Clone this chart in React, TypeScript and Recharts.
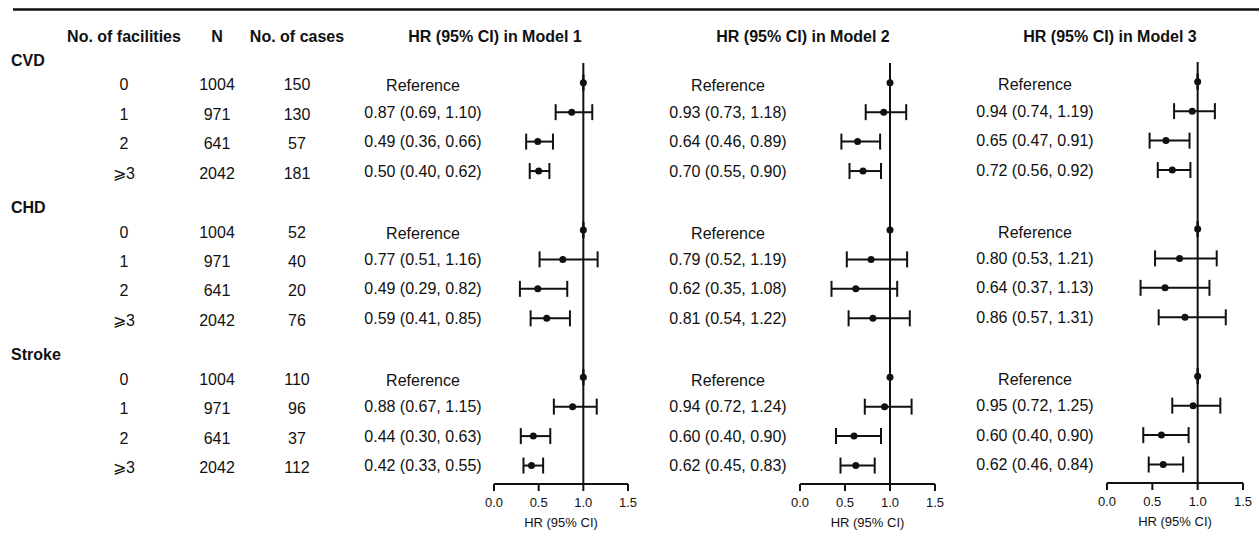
import React from 'react'
import { ScatterChart, Scatter, ErrorBar, XAxis, YAxis, ReferenceLine } from 'recharts'

const outcomes = ['CVD', 'CHD', 'Stroke']
const facilityLevels = ['0', '1', '2', '⩾3']
const participants = [1004, 971, 641, 2042]
const casesCVD = [150, 130, 57, 181]
const casesCHD = [52, 40, 20, 76]
const casesStroke = [110, 96, 37, 112]

// rows run CVD 0..⩾3, CHD 0..⩾3, Stroke 0..⩾3; first of each block is the reference group
const model1HR = [1, 0.87, 0.49, 0.5, 1, 0.77, 0.49, 0.59, 1, 0.88, 0.44, 0.42]
const model1Low = [1, 0.69, 0.36, 0.4, 1, 0.51, 0.29, 0.41, 1, 0.67, 0.3, 0.33]
const model1High = [1, 1.1, 0.66, 0.62, 1, 1.16, 0.82, 0.85, 1, 1.15, 0.63, 0.55]
const model2HR = [1, 0.93, 0.64, 0.7, 1, 0.79, 0.62, 0.81, 1, 0.94, 0.6, 0.62]
const model2Low = [1, 0.73, 0.46, 0.55, 1, 0.52, 0.35, 0.54, 1, 0.72, 0.4, 0.45]
const model2High = [1, 1.18, 0.89, 0.9, 1, 1.19, 1.08, 1.22, 1, 1.24, 0.9, 0.83]
const model3HR = [1, 0.94, 0.65, 0.72, 1, 0.8, 0.64, 0.86, 1, 0.95, 0.6, 0.62]
const model3Low = [1, 0.74, 0.47, 0.56, 1, 0.53, 0.37, 0.57, 1, 0.72, 0.4, 0.46]
const model3High = [1, 1.19, 0.91, 0.92, 1, 1.21, 1.13, 1.31, 1, 1.25, 0.9, 0.84]

const hrTicks = [0, 0.5, 1, 1.5]

const W = 1259
const H = 536
const FONT = '"Liberation Sans", Arial, Helvetica, sans-serif'
const INK = '#111'

// vertical layout, in "slot" units: one slot per header / row
const ROW_H = 29.45
const SLOT0_Y = 53.25
const AXIS_Y = 484
const XAXIS_H = 45
const Y_MIN = -0.6
const Y_MAX = (AXIS_Y - SLOT0_Y) / ROW_H
const REF_TOP = 0.33
const PLOT_TOP = SLOT0_Y + Y_MIN * ROW_H

const casesByOutcome = [casesCVD, casesCHD, casesStroke]

const rows = outcomes.flatMap((_, b) =>
  facilityLevels.map((_, r) => ({ block: b, level: r, idx: b * 4 + r, slot: b * 5 + r + 1 }))
)
const allSlots = Array.from({ length: outcomes.length * 5 }, (_, i) => i)

const fmt = (v: number) => v.toFixed(2)

const panels = [
  { title: 'HR (95% CI) in Model 1', hr: model1HR, lo: model1Low, hi: model1High, left: 494, right: 628, textX: 423, titleX: 495, shift: 0 },
  { title: 'HR (95% CI) in Model 2', hr: model2HR, lo: model2Low, hi: model2High, left: 800, right: 935, textX: 728, titleX: 803, shift: 0 },
  { title: 'HR (95% CI) in Model 3', hr: model3HR, lo: model3Low, hi: model3High, left: 1107, right: 1243, textX: 1035, titleX: 1110, shift: -1 },
]

const colFacility = 124
const colN = 217
const colCases = 297

function Dot(props: any) {
  return <circle cx={props.cx} cy={props.cy} r={3.5} fill={INK} />
}

function Panel({ p, withTable }: { p: (typeof panels)[number]; withTable: boolean }) {
  const data = rows.map((row) => {
    const hr = p.hr[row.idx]
    return {
      slot: row.slot,
      hr,
      err: [hr - p.lo[row.idx], p.hi[row.idx] - hr],
      label: row.level === 0 ? 'Reference' : `${fmt(hr)} (${fmt(p.lo[row.idx])}, ${fmt(p.hi[row.idx])})`,
    }
  })

  const renderTick = (props: any) => {
    const slot = props.payload.value
    const y = props.y
    const isHeader = slot % 5 === 0
    if (isHeader) {
      if (!withTable) return <g />
      return (
        <text x={11} y={y + 7} dy="0.35em" fontSize={16} fontWeight="bold" fill={INK} fontFamily={FONT}>
          {outcomes[slot / 5]}
        </text>
      )
    }
    const row = rows.find((r) => r.slot === slot)!
    const d = data[row.idx]
    const tableY = y + 2
    return (
      <g fontFamily={FONT} fontSize={16} fill={INK} textAnchor="middle">
        {withTable && (
          <>
            <text x={colFacility} y={tableY} dy="0.35em">{facilityLevels[row.level]}</text>
            <text x={colN} y={tableY} dy="0.35em">{participants[row.level]}</text>
            <text x={colCases} y={tableY} dy="0.35em">{casesByOutcome[row.block][row.level]}</text>
          </>
        )}
        <text x={p.textX} y={row.level === 0 ? y + 3 : y} dy="0.35em">{d.label}</text>
      </g>
    )
  }

  return (
    <div style={{ position: 'absolute', left: 0, top: p.shift }}>
      <ScatterChart
        width={W}
        height={H}
        margin={{ top: PLOT_TOP, right: W - p.right, bottom: H - AXIS_Y - XAXIS_H, left: 0 }}
      >
        <XAxis
          type="number"
          dataKey="hr"
          domain={[0, 1.5]}
          ticks={hrTicks}
          allowDataOverflow
          tickFormatter={(v: number) => v.toFixed(1)}
          axisLine={{ stroke: INK, strokeWidth: 2 }}
          tickLine={{ stroke: INK, strokeWidth: 2 }}
          tickSize={7}
          tickMargin={7}
          tick={{ fill: INK, fontSize: 13, fontFamily: FONT }}
          height={XAXIS_H}
          label={{ value: 'HR (95% CI)', position: 'insideBottom', offset: 2, fill: INK, fontSize: 13, fontFamily: FONT }}
        />
        <YAxis
          type="number"
          dataKey="slot"
          domain={[Y_MIN, Y_MAX]}
          allowDataOverflow
          reversed
          ticks={allSlots}
          interval={0}
          width={p.left}
          axisLine={false}
          tickLine={false}
          tick={renderTick}
        />
        <ReferenceLine
          segment={[
            { x: 1, y: REF_TOP },
            { x: 1, y: Y_MAX },
          ]}
          stroke={INK}
          strokeWidth={2}
        />
        <Scatter data={data} shape={Dot} isAnimationActive={false}>
          <ErrorBar dataKey="err" direction="x" width={8} stroke={INK} strokeWidth={2} isAnimationActive={false} />
        </Scatter>
      </ScatterChart>
    </div>
  )
}

export default function App() {
  return (
    <div style={{ position: 'relative', width: W, height: H, background: '#fff', fontFamily: FONT }}>
      <style>{'body{margin:0}'}</style>
      <svg width={W} height={H} style={{ position: 'absolute', left: 0, top: 0 }}>
        <line x1={13} x2={W} y1={9.5} y2={9.5} stroke={INK} strokeWidth={2.5} />
        <g fontFamily={FONT} fontSize={16} fontWeight="bold" fill={INK} textAnchor="middle">
          <text x={colFacility} y={36} dy="0.35em">No. of facilities</text>
          <text x={colN} y={36} dy="0.35em">N</text>
          <text x={colCases} y={36} dy="0.35em">No. of cases</text>
          {panels.map((p) => (
            <text key={p.title} x={p.titleX} y={36} dy="0.35em">{p.title}</text>
          ))}
        </g>
      </svg>
      {panels.map((p, i) => (
        <Panel key={p.title} p={p} withTable={i === 0} />
      ))}
    </div>
  )
}
